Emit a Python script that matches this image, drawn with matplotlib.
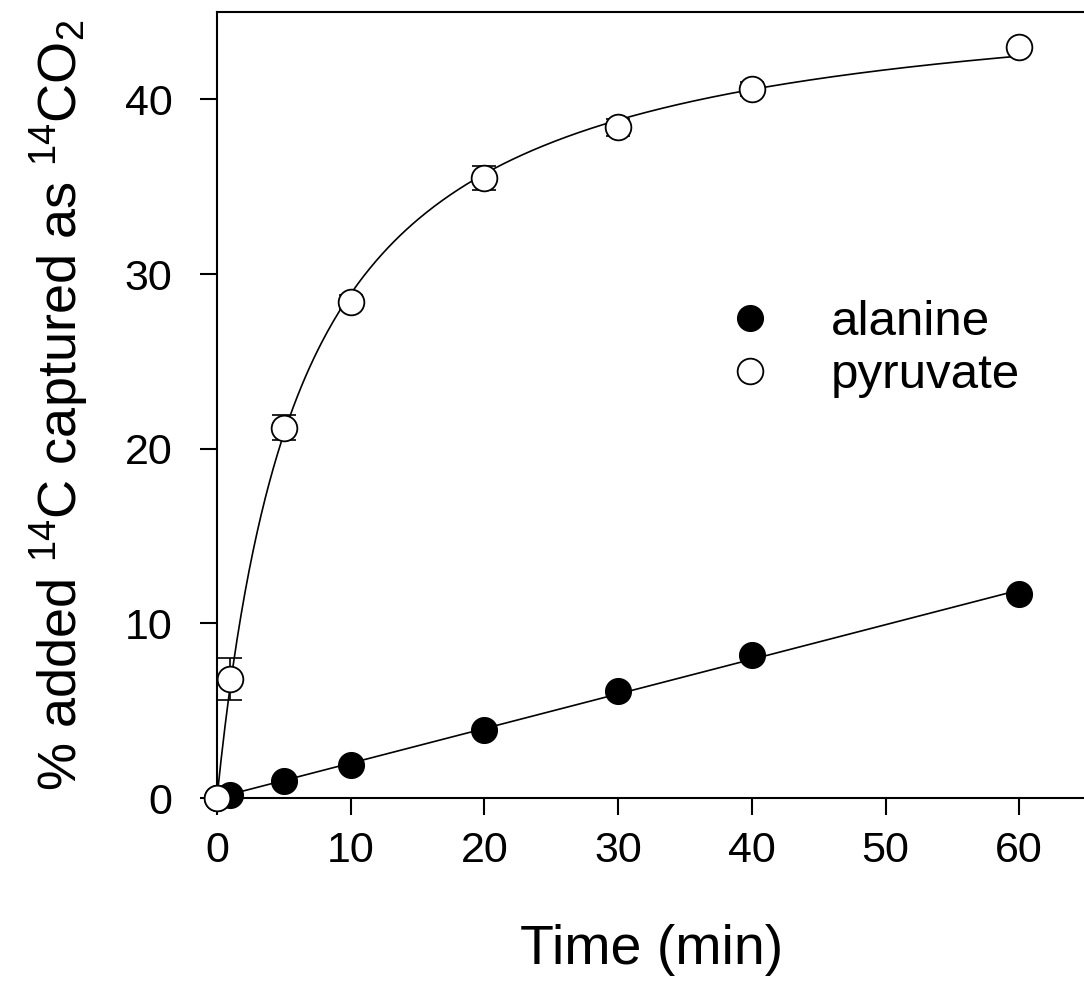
import numpy as np
import matplotlib
matplotlib.use("Agg")
import matplotlib.pyplot as plt

plt.rcParams['font.family'] = ['Liberation Sans', 'DejaVu Sans']
plt.rcParams['mathtext.fontset'] = 'custom'
plt.rcParams['mathtext.rm'] = 'Liberation Sans'
plt.rcParams['mathtext.default'] = 'regular'

# data
time_min = np.array([0, 1, 5, 10, 20, 30, 40, 60])
alanine = np.array([0.0, 0.2, 1.0, 1.9, 3.9, 6.1, 8.2, 11.7])
pyruvate = np.array([0.0, 6.8, 21.2, 28.4, 35.5, 38.4, 40.6, 43.0])
pyruvate_err = np.array([0.0, 1.2, 0.7, 0.4, 0.7, 0.5, 0.4, 0.2])

x_ticks = [0, 10, 20, 30, 40, 50, 60]
y_ticks = [0, 10, 20, 30, 40]

# linear fit for alanine
slope, icpt = np.polyfit(time_min, alanine, 1)
xs = np.linspace(0, 60, 400)
ala_fit = slope * xs + icpt

# hyperbolic fit for pyruvate (simple grid search)
best = None
for vmax in np.linspace(40, 60, 201):
    for k in np.linspace(2, 15, 261):
        sse = np.sum((vmax * time_min / (k + time_min) - pyruvate) ** 2)
        if best is None or sse < best[0]:
            best = (sse, vmax, k)
_, vmax, k = best
pyr_fit = vmax * xs / (k + xs)

fig = plt.figure(figsize=(10.84, 9.9), dpi=100)
ax = fig.add_axes([217 / 1084, 1 - 798 / 990, (65 * 13.37) / 1084, (798 - 12) / 990])

ax.plot(xs, pyr_fit, color='black', lw=1.2, zorder=2)
ax.plot(xs, ala_fit, color='black', lw=1.2, zorder=2)
ax.errorbar(time_min, pyruvate, yerr=pyruvate_err, fmt='none', ecolor='black',
            elinewidth=1.2, capsize=8.5, capthick=1.2, zorder=3)
ax.plot(time_min, alanine, 'o', color='black', ms=18.5, zorder=4, clip_on=False,
        label='alanine')
ax.plot(time_min, pyruvate, 'o', mfc='white', mec='black', mew=1.3, ms=18.5,
        zorder=4, clip_on=False, label='pyruvate')

ax.set_xlim(0, 65)
ax.set_ylim(0, 45)
ax.set_xticks(x_ticks)
ax.set_yticks(y_ticks)
ax.tick_params(direction='out', length=12, width=1.5, labelsize=31)
ax.tick_params(axis='x', pad=12)
ax.tick_params(axis='y', pad=20)
for s in ax.spines.values():
    s.set_linewidth(1.5)
ax.spines['right'].set_visible(False)

ax.set_xlabel('Time (min)', fontsize=40, labelpad=38)
ax.set_ylabel(r'% added $^{14}$C captured as $^{14}$CO$_2$', fontsize=39, labelpad=24)

ax.legend(loc='upper left', bbox_to_anchor=(0.545, 0.69), frameon=False, fontsize=35.5,
          handlelength=0.6, handletextpad=1.35, labelspacing=0.17, markerscale=1.0)

fig.savefig('out.png', dpi=100)
